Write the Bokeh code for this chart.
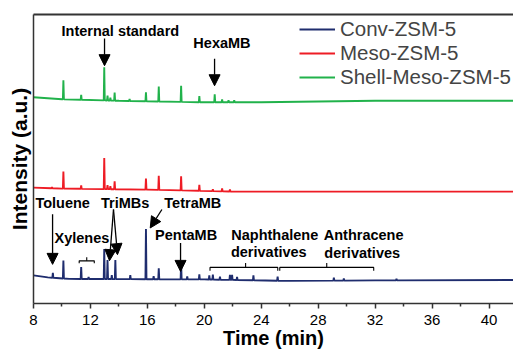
import numpy as np
from bokeh.plotting import figure
from bokeh.models import (Range1d, FixedTicker, LinearAxis, Legend, LegendItem,
                          Arrow, NormalHead)
from bokeh.core.properties import value
from bokeh.embed import file_html
from bokeh.resources import INLINE

FONT = "Liberation Sans"

# ---------------- data (retention time in min, intensity in a.u.) ----------------
series_names = ["Conv-ZSM-5", "Meso-ZSM-5", "Shell-Meso-ZSM-5"]

conv_peak_t = [9.36, 10.1, 11.35, 11.87, 12.97, 13.2, 13.5, 13.75, 14.8, 15.9, 16.44,
               16.8, 18.37, 18.8, 19.65, 20.35, 20.6, 21.1, 21.8, 21.95, 22.3, 23.45,
               25.15, 29.1, 29.8, 33.5]
conv_peak_h = [5, 18, 12, 2, 30, 19, 4, 19, 4, 50, 3,
               11, 16, 3, 5, 4, 5, 3, 5, 5, 3, 5,
               4, 3, 2, 1.5]
conv_base_t = [8, 9, 10.5, 20, 26, 32, 42]
conv_base_v = [4, 2, 0.5, 0, -1.5, -1, -0.5]

meso_peak_t = [9.3, 10.1, 11.35, 12.97, 13.2, 13.4, 13.7, 15.9, 16.8, 18.37, 19.65,
               20.6, 21.25, 21.8]
meso_peak_h = [1, 17, 3.5, 31, 4, 3, 8, 11, 14, 14, 6,
               2, 3, 2]
meso_base_t = [8, 10, 16, 22, 42]
meso_base_v = [3.5, 2.5, 1.5, -0.5, -0.5]

shell_peak_t = [10.1, 11.35, 12.97, 13.2, 13.4, 13.7, 14.75, 15.9, 16.8, 18.37, 19.65,
                20.73, 21.25, 21.7, 22.1]
shell_peak_h = [19, 5, 33, 5, 3, 8, 2, 9, 15, 16, 6,
                8, 3, 2, 2]
shell_base_t = [8, 10, 14, 20, 24, 32, 42]
shell_base_v = [4.5, 2.5, 1, -0.5, -0.5, 1, 1]

x_ticks = [8, 12, 16, 20, 24, 28, 32, 36, 40]

# ---------------- styling ----------------
offsets = [24, 112, 201]
colors = ["#1f2d6e", "#ee1c25", "#21b24b"]


def build_trace(pt, ph, bt, bv, off, hw=0.035):
    pts = [(t, v) for t, v in zip(bt, bv)]
    for t, h in zip(pt, ph):
        b = float(np.interp(t, bt, bv))
        pts += [(t - hw, float(np.interp(t - hw, bt, bv))), (t, b + h),
                (t + hw, float(np.interp(t + hw, bt, bv)))]
    pts.sort(key=lambda p: p[0])
    return [p[0] for p in pts], [p[1] + off for p in pts]


p = figure(width=513, height=351, output_backend="svg", toolbar_location=None,
           x_range=Range1d(8, 41.72), y_range=Range1d(0, 288),
           min_border_left=33, min_border_right=0, min_border_top=14,
           min_border_bottom=0)
p.outline_line_color = None
p.grid.visible = False
p.background_fill_color = "white"

datasets = [
    (conv_peak_t, conv_peak_h, conv_base_t, conv_base_v),
    (meso_peak_t, meso_peak_h, meso_base_t, meso_base_v),
    (shell_peak_t, shell_peak_h, shell_base_t, shell_base_v),
]
renderers = []
for (pt, ph, bt, bv), off, c in zip(datasets, offsets, colors):
    xs, ys = build_trace(pt, ph, bt, bv, off)
    r = p.line(xs, ys, line_color=c, line_width=1.9)
    renderers.append(r)

# axes
ax = p.xaxis[0]
ax.ticker = FixedTicker(ticks=x_ticks, minor_ticks=[t + 2 for t in x_ticks])
ax.axis_label = "Time (min)"
ax.axis_label_text_font = FONT
ax.axis_label_text_font_style = "bold"
ax.axis_label_text_font_size = "20px"
ax.axis_label_text_color = "black"
ax.axis_label_standoff = -1
ax.major_label_text_font = FONT
ax.major_label_text_font_size = "15px"
ax.major_label_text_color = "black"
ax.major_label_standoff = 6
ax.major_tick_out = 5
ax.major_tick_in = 0
ax.minor_tick_out = 3
ax.minor_tick_in = 0
ax.axis_line_width = 1.5
ax.axis_line_color = "#333333"
ax.major_tick_line_color = "#333333"
ax.minor_tick_line_color = "#333333"
ax.major_tick_line_width = 1.5
ax.minor_tick_line_width = 1.5

ay = p.yaxis[0]
ay.ticker = FixedTicker(ticks=[])
ay.axis_label = "Intensity (a.u.)"
ay.axis_label_text_font = FONT
ay.axis_label_text_font_style = "bold"
ay.axis_label_text_font_size = "21px"
ay.axis_label_text_color = "black"
ay.axis_label_standoff = 3
ay.major_tick_out = 0
ay.minor_tick_out = 0
ay.axis_line_width = 1.5
ay.axis_line_color = "#333333"

top = LinearAxis(ticker=FixedTicker(ticks=[]), major_tick_out=0, minor_tick_out=0,
                 axis_line_width=2, axis_line_color="#333333",
                 major_label_text_font_size="0px")
p.add_layout(top, "above")

# legend
legend = Legend(items=[LegendItem(label=n, renderers=[r]) for n, r in zip(series_names, renderers)],
                location=(266, 214), glyph_width=36, glyph_height=20,
                label_text_font=FONT, label_text_font_size="20.5px", label_standoff=5,
                spacing=0, padding=0, margin=0, border_line_color=None,
                background_fill_alpha=0)
p.add_layout(legend)

# annotations
lab_x = [14.1, 21.24, 10.05, 11.4, 14.44, 19.19, 18.72, 24.95, 24.53, 31.19, 31.09]
lab_y = [272, 259.3, 100.3, 65.3, 99.7, 99.7, 68.7, 68.7, 51.3, 68.7, 50.3]
lab_t = ["Internal standard", "HexaMB", "Toluene", "Xylenes", "TriMBs", "TetraMB",
         "PentaMB", "Naphthalene", "derivatives", "Anthracene", "derivatives"]
p.text(x=lab_x, y=lab_y, text=lab_t, text_font=value(FONT), text_font_style="bold",
       text_font_size="14.5px", text_align="center", text_baseline="middle",
       text_color="black")

arrows = [
    (12.99, 264, 12.99, 237),
    (20.72, 244, 20.72, 217),
    (9.34, 89, 9.34, 39),
    (13.62, 93.7, 13.34, 42.7),
    (13.62, 93.7, 13.90, 48.7),
    (17.02, 93.7, 16.2, 75.3),
    (18.33, 60.3, 18.33, 32),
]
for xs_, ys_, xe_, ye_ in arrows:
    p.add_layout(Arrow(end=NormalHead(size=11, fill_color="black", line_color="black"),
                       x_start=xs_, y_start=ys_, x_end=xe_, y_end=ye_,
                       line_width=1.3, line_color="black"))

# brackets
brackets = [(11.21, 12.27, 11.74, 42.5, 2.5, 3.5),
            (20.4, 25.16, 22.9, 36, 3.3, 4.3),
            (25.3, 31.9, 28.6, 36, 3.3, 4.3)]
bx, by = [], []
for x0, x1, xc, yb, dn, up in brackets:
    bx.append([x0, x0, x1, x1]); by.append([yb - dn, yb, yb, yb - dn])
    bx.append([xc, xc]); by.append([yb, yb + up])
p.multi_line(bx, by, line_color="black", line_width=1.1)

open("out.html", "w").write(file_html(p, INLINE))
